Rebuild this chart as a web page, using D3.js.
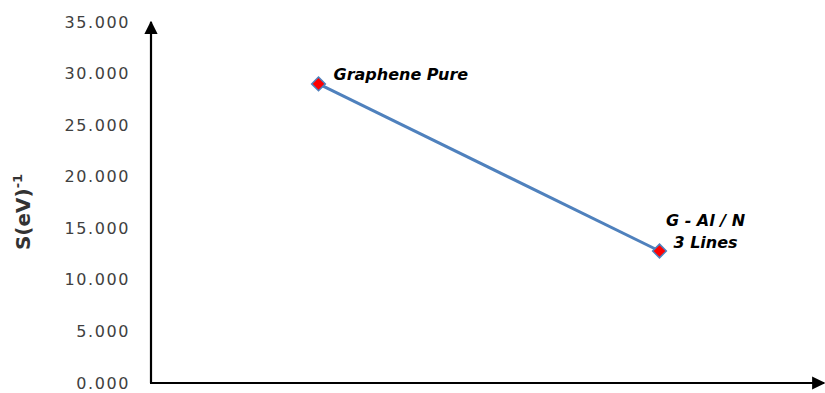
<!DOCTYPE html>
<html><head><meta charset="utf-8">
<script src="https://cdn.jsdelivr.net/npm/d3@7"></script>
<style>body{margin:0;background:#fff}</style>
</head><body>
<svg id="c" width="825" height="393"></svg>
<script>
const categories = ["Graphene Pure", "G - Al / N 3 Lines"];
const values = [29.0, 12.8];
const yTicks = [0, 5, 10, 15, 20, 25, 30, 35];
const labelLines = [["Graphene Pure"], ["G - Al / N", "3 Lines"]];

const svg = d3.select("#c");
const x0 = 151, yBase = 383, yTop = 22;
const y = d3.scaleLinear().domain([0, 35]).range([yBase, yTop]);
const x = d3.scalePoint().domain(categories).range([148, 830]).padding(0.5);

const defs = svg.append("defs");
defs.append("marker").attr("id","arr").attr("viewBox","0 0 10 10").attr("refX",9).attr("refY",5)
  .attr("markerWidth",6).attr("markerHeight",6).attr("orient","auto-start-reverse")
  .append("path").attr("d","M0,0 L10,5 L0,10 Z").attr("fill","#000");

// y tick labels
const yAxis = d3.axisLeft(y).tickValues(yTicks).tickFormat(d3.format(".3f")).tickSize(0).tickPadding(21);
const ga = svg.append("g").attr("transform",`translate(${x0},0)`).call(yAxis);
ga.select(".domain").remove();
ga.selectAll("text").attr("font-family","DejaVu Sans").attr("font-size",16).attr("fill","#404040").attr("letter-spacing","1.6px");

// axes lines with arrows
svg.append("line").attr("x1",x0).attr("y1",yBase).attr("x2",x0).attr("y2",yTop)
  .attr("stroke","#000").attr("stroke-width",2.2).attr("marker-end","url(#arr)");
svg.append("line").attr("x1",x0-1).attr("y1",yBase).attr("x2",824).attr("y2",yBase)
  .attr("stroke","#000").attr("stroke-width",2.2).attr("marker-end","url(#arr)");

// y title
const t = svg.append("text").attr("transform",`translate(30,212) rotate(-90)`).attr("text-anchor","middle")
  .attr("font-family","DejaVu Sans").attr("font-weight","bold").attr("font-size",20).attr("fill","#333");
t.append("tspan").text("S(eV)");
t.append("tspan").attr("dy",-8).attr("font-size",13).text("-1");

// line
const data = categories.map((c,i)=>({c, v: values[i]}));
svg.append("path").datum(data).attr("fill","none").attr("stroke","#4F81BD").attr("stroke-width",3)
  .attr("d", d3.line().x(d=>x(d.c)).y(d=>y(d.v)));

// markers
svg.selectAll(".pt").data(data).join("path").attr("class","pt")
  .attr("transform", d=>`translate(${x(d.c)},${y(d.v)})`)
  .attr("d", d3.symbol(d3.symbolDiamond2, 120)())
  .attr("fill","#FF0000").attr("stroke","#4F81BD").attr("stroke-width",1.5);

// labels
const lab = svg.append("g").attr("font-family","DejaVu Sans").attr("font-weight","bold").attr("font-style","italic")
  .attr("font-size",16).attr("fill","#000");
lab.append("text").attr("x", x(categories[0]) + 15).attr("y", y(values[0]) - 4).text(labelLines[0][0]);
const l2 = lab.append("text").attr("text-anchor","middle");
l2.append("tspan").attr("x", x(categories[1]) + 46).attr("y", y(values[1]) - 25).text(labelLines[1][0]);
l2.append("tspan").attr("x", x(categories[1]) + 46).attr("y", y(values[1]) - 3).text(labelLines[1][1]);
</script>
</body></html>
